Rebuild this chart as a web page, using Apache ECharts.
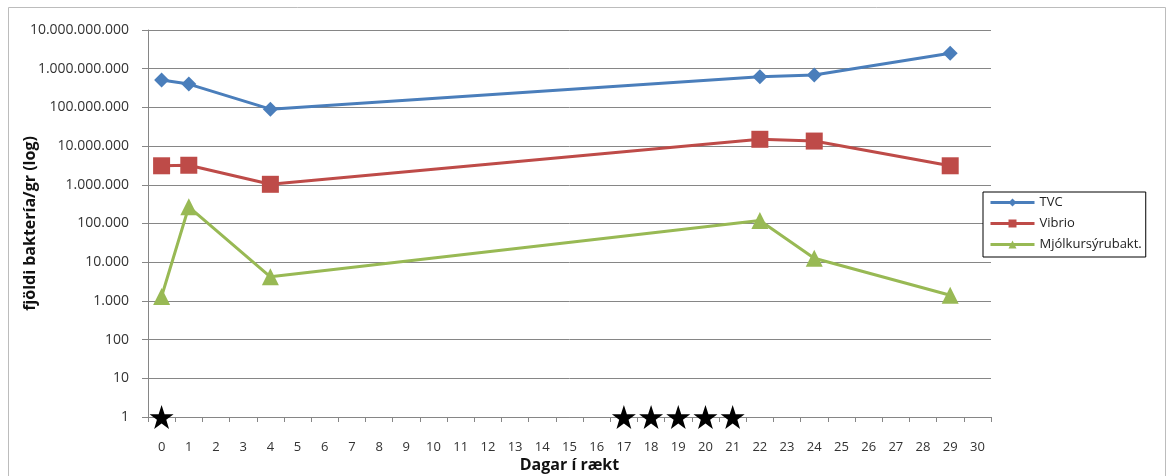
<!DOCTYPE html>
<html><head><meta charset="utf-8">
<script src="https://cdn.jsdelivr.net/npm/echarts@6/dist/echarts.min.js"></script>
<style>html,body{margin:0;padding:0;background:#fff}#c{width:1168px;height:476px}</style>
</head><body><div id="c"></div>
<script>
const categories = Array.from({length:31},(_,i)=>String(i));
const sampleDays = ['0','1','4','22','24','29'];
const tvc = [510000000, 400000000, 90000000, 620000000, 690000000, 2500000000];
const vibrio = [3100000, 3200000, 1030000, 15000000, 13500000, 3100000];
const mjolk = [1300, 270000, 4200, 120000, 12600, 1400];
const starDays = ['0','17','18','19','20','21'];
const starValue = 1;
const yAxisName = 'fjöldi baktería/gr (log)';
const xAxisName = 'Dagar í rækt';
const seriesNames = ['TVC','Vibrio','Mjólkursýrubakt.'];

const pair = arr => sampleDays.map((d,i)=>[d, arr[i]]);
const fmt = v => String(Math.round(v)).replace(/\B(?=(\d{3})+(?!\d))/g,'.');
const starPath = 'path://M50,0 L61.8,35.5 L97.6,35.5 L68.6,57.4 L79.4,92.7 L50,71 L20.6,92.7 L31.4,57.4 L2.4,35.5 L38.2,35.5 Z';
const font = 'Open Sans';

const chart = echarts.init(document.getElementById('c'), null, {renderer:'canvas'});
chart.setOption({
  animation:false,
  backgroundColor:'#fff',
  textStyle:{fontFamily:font},
  graphic:[{type:'rect',shape:{x:8.5,y:7.5,width:1157,height:480},style:{fill:'none',stroke:'#bcbcbc',lineWidth:1},silent:true}],
  grid:{left:148,right:177,top:30,bottom:59,outerBoundsMode:'none',containLabel:false},
  legend:{
    data:seriesNames, orient:'vertical', left:983, top:192, width:182,
    padding:[4,4,6,6], itemGap:8, itemWidth:44, itemHeight:10,
    borderColor:'#000', borderWidth:1, backgroundColor:'#fff',
    lineStyle:{width:3},
    textStyle:{fontFamily:font,fontSize:13,color:'#222'}
  },
  xAxis:{
    type:'category', data:categories, boundaryGap:true,
    name:xAxisName, nameLocation:'middle', nameGap:40, nameMoveOverlap:false,
    nameTextStyle:{fontFamily:font,fontSize:16,fontWeight:'bold',color:'#111'},
    axisLine:{lineStyle:{color:'#868686',width:1}},
    axisTick:{show:true,length:5,interval:0,lineStyle:{color:'#868686'}},
    axisLabel:{interval:0,margin:24,fontSize:13,color:'#333',fontFamily:font},
    splitLine:{show:false}
  },
  yAxis:{
    type:'log', logBase:10, min:1, max:10000000000, interval:1, splitNumber:10,
    name:yAxisName, nameLocation:'middle', nameGap:110, nameRotate:90, nameMoveOverlap:false,
    nameTextStyle:{fontFamily:font,fontSize:16,fontWeight:'bold',color:'#111'},
    axisLine:{show:true,lineStyle:{color:'#868686',width:1}},
    axisTick:{show:true,length:6,lineStyle:{color:'#868686'}},
    axisLabel:{formatter:fmt,margin:19,fontSize:14,color:'#333',fontFamily:font},
    splitLine:{show:true,lineStyle:{color:'#868686',width:1}}
  },
  series:[
    {name:seriesNames[0],type:'line',data:pair(tvc),connectNulls:true,symbol:'diamond',symbolSize:15,
     lineStyle:{width:3,color:'#4a7ebb'},itemStyle:{color:'#4a7ebb'},z:3},
    {name:seriesNames[1],type:'line',data:pair(vibrio),connectNulls:true,symbol:'rect',symbolSize:17,
     lineStyle:{width:3,color:'#be4b48'},itemStyle:{color:'#be4b48'},z:3},
    {name:seriesNames[2],type:'line',data:pair(mjolk),connectNulls:true,symbol:'triangle',symbolSize:17,
     lineStyle:{width:3,color:'#98b954'},itemStyle:{color:'#98b954'},z:3},
    {name:'stars',type:'scatter',data:starDays.map(d=>[d,starValue]),symbol:starPath,symbolSize:24,
     itemStyle:{color:'#000',opacity:1},z:5,silent:true}
  ]
});
</script></body></html>
